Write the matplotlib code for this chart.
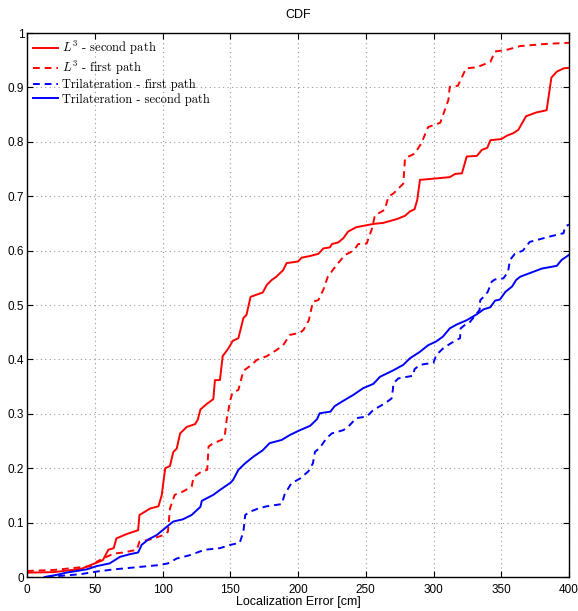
import matplotlib
matplotlib.use('Agg')
import matplotlib.pyplot as plt

# L^3 - second path (red solid)
l3_second_x = [0, 20, 40, 47, 56, 60, 64, 66, 73.6, 82, 83, 91, 97, 99.4, 102, 105.5, 108, 110.5, 113, 118,
               124, 126, 128, 132.6, 137.5, 138.7, 142.4, 144.4, 148.6, 151.8, 156, 159.7, 162, 165, 174, 177,
               180.6, 184, 189, 191.6, 200, 202.7, 208.8, 215, 218.7, 223.6, 225, 229.7, 233.5, 237, 243,
               255.6, 263, 273, 279, 282.6, 286, 288, 290, 312, 316, 321, 324.5, 332, 335.6, 339.7, 342, 350,
               354, 359, 362.6, 368.3, 376, 383.5, 387, 391, 396, 400]
l3_second_y = [0.008, 0.009, 0.015, 0.022, 0.031, 0.05, 0.053, 0.071, 0.079, 0.086, 0.114, 0.126, 0.13, 0.15,
               0.2, 0.204, 0.23, 0.236, 0.264, 0.276, 0.281, 0.289, 0.308, 0.318, 0.327, 0.362, 0.362, 0.406,
               0.42, 0.434, 0.439, 0.476, 0.482, 0.515, 0.523, 0.537, 0.546, 0.552, 0.564, 0.577, 0.58, 0.587,
               0.59, 0.594, 0.604, 0.606, 0.612, 0.615, 0.623, 0.635, 0.643, 0.649, 0.651, 0.658, 0.664, 0.672,
               0.676, 0.693, 0.73, 0.735, 0.741, 0.742, 0.773, 0.774, 0.785, 0.789, 0.803, 0.805, 0.811, 0.816,
               0.822, 0.847, 0.854, 0.858, 0.918, 0.929, 0.935, 0.936]

# L^3 - first path (red dashed)
l3_first_x = [0, 20, 44, 49, 51.4, 56, 64, 71, 81, 83, 91, 100.6, 104, 105.5, 109, 115, 121.5, 123, 129, 133,
              134, 137.5, 143.7, 146, 147.4, 150, 151.5, 156, 159.7, 165.8, 169.5, 177, 184, 189, 194, 201.5,
              204, 208, 211, 215, 218.7, 222, 228.6, 234.7, 241, 244.5, 250.7, 254.4, 256.8, 264, 266.7, 270.4,
              277.7, 279, 286, 291, 296, 305, 311, 312, 318, 324, 332, 342, 345.4, 354, 364, 383.5, 400]
l3_first_y = [0.011, 0.013, 0.019, 0.02, 0.028, 0.034, 0.043, 0.045, 0.05, 0.065, 0.069, 0.077, 0.083, 0.126,
              0.151, 0.157, 0.166, 0.184, 0.194, 0.197, 0.24, 0.246, 0.252, 0.26, 0.29, 0.325, 0.338, 0.344,
              0.379, 0.39, 0.399, 0.406, 0.417, 0.426, 0.445, 0.449, 0.454, 0.472, 0.506, 0.509, 0.528, 0.552,
              0.574, 0.592, 0.6, 0.612, 0.613, 0.639, 0.665, 0.675, 0.699, 0.705, 0.723, 0.77, 0.778, 0.797,
              0.827, 0.835, 0.877, 0.901, 0.903, 0.935, 0.937, 0.947, 0.966, 0.969, 0.976, 0.98, 0.982]

# Trilateration - first path (blue dashed)
tri_first_x = [14.5, 24, 39, 51.4, 64, 81, 98, 104, 110.5, 120, 131, 142.4, 150, 157, 159.7, 161, 164.6, 170.7,
               177, 188, 190, 195, 201.5, 207.6, 211, 212.5, 216, 221, 225, 233.5, 237, 243, 250.7, 255.6, 264,
               269, 270, 270.4, 274, 285, 286, 290, 300, 302, 307, 313, 319.6, 320, 324.5, 327, 334, 334.5, 337,
               340, 343, 345.4, 351.6, 355, 356.5, 360, 366, 371, 378.6, 386, 396, 397, 400]
tri_first_y = [0.0, 0.002, 0.005, 0.01, 0.014, 0.018, 0.022, 0.025, 0.034, 0.04, 0.05, 0.053, 0.059, 0.063,
               0.083, 0.114, 0.12, 0.126, 0.13, 0.134, 0.151, 0.172, 0.181, 0.194, 0.209, 0.23, 0.237, 0.255,
               0.264, 0.27, 0.276, 0.292, 0.295, 0.307, 0.319, 0.328, 0.344, 0.356, 0.365, 0.37, 0.382, 0.39,
               0.394, 0.408, 0.42, 0.43, 0.439, 0.457, 0.466, 0.469, 0.491, 0.509, 0.515, 0.524, 0.543, 0.547,
               0.549, 0.561, 0.583, 0.594, 0.6, 0.616, 0.621, 0.626, 0.632, 0.644, 0.648]

# Trilateration - second path (blue solid)
tri_second_x = [13, 22, 29, 44, 51.4, 61, 68.6, 76, 82, 84.6, 89.5, 95.7, 103, 108, 115, 121.5, 128, 129,
                137.5, 142.4, 150, 152, 156, 161, 167, 174, 179, 188, 194, 201.5, 209, 214, 216, 224, 227, 233.5,
                241, 248, 255.6, 260.5, 270.4, 277.7, 282.6, 290, 296, 302, 307, 312, 317, 324.5, 332, 337, 342,
                345.4, 349, 353, 358, 361, 364, 373.6, 380, 391, 394.6, 400]
tri_second_y = [0.0, 0.004, 0.008, 0.014, 0.02, 0.025, 0.037, 0.042, 0.045, 0.059, 0.069, 0.077, 0.092, 0.102,
                0.106, 0.114, 0.129, 0.14, 0.151, 0.16, 0.173, 0.178, 0.197, 0.209, 0.221, 0.233, 0.246, 0.252,
                0.261, 0.27, 0.278, 0.29, 0.301, 0.304, 0.314, 0.324, 0.335, 0.347, 0.355, 0.368, 0.38, 0.39,
                0.402, 0.414, 0.426, 0.433, 0.442, 0.457, 0.464, 0.472, 0.483, 0.492, 0.496, 0.508, 0.51, 0.524,
                0.534, 0.546, 0.552, 0.561, 0.567, 0.572, 0.583, 0.592]

x_ticks = [0, 50, 100, 150, 200, 250, 300, 350, 400]
y_ticks = [0, 0.1, 0.2, 0.3, 0.4, 0.5, 0.6, 0.7, 0.8, 0.9, 1]
y_tick_labels = ['0', '0.1', '0.2', '0.3', '0.4', '0.5', '0.6', '0.7', '0.8', '0.9', '1']

plt.rcParams['font.family'] = ['Liberation Sans', 'DejaVu Sans']
plt.rcParams['mathtext.fontset'] = 'cm'

fig = plt.figure(figsize=(5.78, 6.11), dpi=100)
ax = fig.add_axes([27 / 578, 1 - 577 / 611, 542 / 578, 544 / 611])

dash = (0, (3.5, 2.5))
ax.plot(l3_second_x, l3_second_y, color='red', lw=1.4, label=r'$L^3$ - second path')
ax.plot(l3_first_x, l3_first_y, color='red', lw=1.4, linestyle=dash, label=r'$L^3$ - first path')
ax.plot(tri_first_x, tri_first_y, color='blue', lw=1.4, linestyle=dash, label='Trilateration - first path')
ax.plot(tri_second_x, tri_second_y, color='blue', lw=1.4, label='Trilateration - second path')

ax.set_xlim(0, 400)
ax.set_ylim(0, 1)
ax.set_xticks(x_ticks)
ax.set_yticks(y_ticks)
ax.set_yticklabels(y_tick_labels)
ax.tick_params(direction='in', top=True, right=True, length=4, width=0.8, labelsize=8.5)
ax.tick_params(axis='x', pad=5)
ax.tick_params(axis='y', pad=2)
ax.grid(True, color='#999999', linestyle=(0, (1, 3)), linewidth=0.8)
for s in ax.spines.values():
    s.set_linewidth(1.0)

ax.set_title('CDF', fontsize=9, pad=11)
ax.set_xlabel('Localization Error [cm]', fontsize=9, labelpad=0)

leg = ax.legend(loc='upper left', frameon=False, prop={'family': 'cmr10', 'size': 9},
                handlelength=2.0, handletextpad=0.3, labelspacing=0.15, borderaxespad=0.2,
                borderpad=0.3)

fig.savefig('out.png', dpi=100)
